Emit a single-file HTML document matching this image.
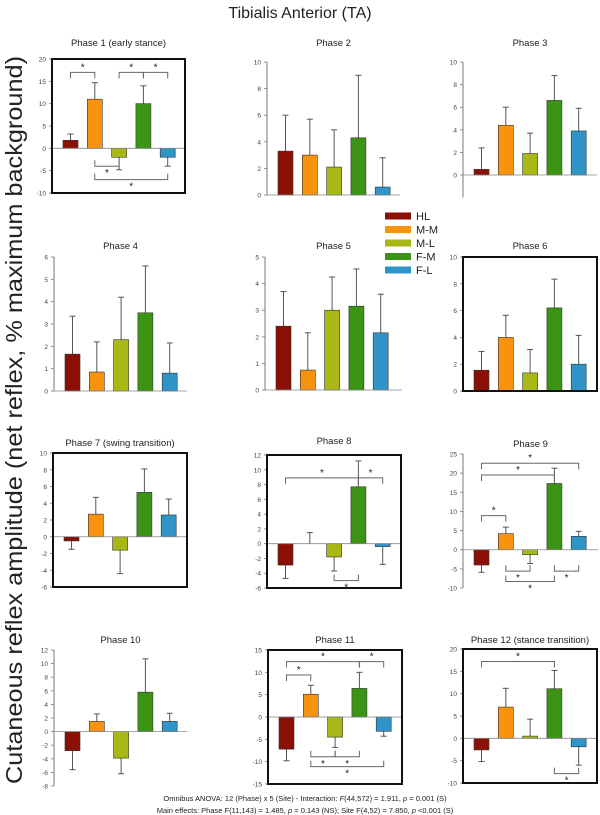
<!DOCTYPE html>
<html><head><meta charset="utf-8"><style>
html,body{margin:0;padding:0;background:#fff;}
svg{display:block;font-family:"Liberation Sans",Arial,sans-serif;}
</style></head><body>
<svg id="fig" width="600" height="815" viewBox="0 0 600 815">
<text x="300" y="18" text-anchor="middle" font-size="16" fill="#222">Tibialis Anterior (TA)</text>
<text transform="translate(22,420) rotate(-90)" text-anchor="middle" font-size="23" textLength="728" lengthAdjust="spacingAndGlyphs" fill="#222">Cutaneous reflex amplitude (net reflex, % maximum background)</text>
<text x="305" y="801" text-anchor="middle" font-size="7.5" fill="#222">Omnibus ANOVA: 12 (Phase) x 5 (Site) - Interaction: <tspan font-style="italic">F</tspan>(44,572) = 1.911, <tspan font-style="italic">p</tspan> = 0.001 (S)</text>
<text x="305" y="813" text-anchor="middle" font-size="7.5" fill="#222">Main effects: Phase F(11,143) = 1.485, <tspan font-style="italic">p</tspan> = 0.143 (NS); Site F(4,52) = 7.850, <tspan font-style="italic">p</tspan> &lt;0.001 (S)</text>
<g id="legend"></g>
</svg>
<script>
const sites = ["HL","M-M","M-L","F-M","F-L"];
const siteColors = ["#8a0f05","#f7930f","#a9b814","#3b9413","#2f95c8"];
const phaseTitles = ["Phase 1 (early stance)","Phase 2","Phase 3","Phase 4","Phase 5","Phase 6","Phase 7 (swing transition)","Phase 8","Phase 9","Phase 10","Phase 11","Phase 12 (stance transition)"];
const meansP1 = [1.8, 11.0, -2.0, 10.0, -2.0];
const errP1 = [3.2, 14.7, -4.8, 14.0, -4.0];
const meansP2 = [3.3, 3.0, 2.1, 4.3, 0.6];
const errP2 = [6.0, 5.7, 4.9, 9.0, 2.8];
const meansP3 = [0.5, 4.4, 1.9, 6.6, 3.9];
const errP3 = [2.4, 6.0, 3.7, 8.8, 5.9];
const meansP4 = [1.65, 0.85, 2.3, 3.5, 0.8];
const errP4 = [3.35, 2.2, 4.2, 5.6, 2.15];
const meansP5 = [2.4, 0.75, 3.0, 3.15, 2.15];
const errP5 = [3.7, 2.15, 4.25, 4.55, 3.6];
const meansP6 = [1.55, 4.0, 1.35, 6.2, 2.0];
const errP6 = [2.95, 5.65, 3.1, 8.35, 4.15];
const meansP7 = [-0.5, 2.7, -1.6, 5.3, 2.6];
const errP7 = [-1.5, 4.7, -4.4, 8.1, 4.5];
const meansP8 = [-2.9, 0.0, -1.8, 7.7, -0.4];
const errP8 = [-4.7, 1.5, -3.7, 11.2, -2.8];
const meansP9 = [-4.0, 4.2, -1.3, 17.3, 3.5];
const errP9 = [-5.9, 5.9, -3.6, 21.3, 4.8];
const meansP10 = [-2.8, 1.5, -3.9, 5.8, 1.5];
const errP10 = [-5.6, 2.6, -6.2, 10.7, 2.7];
const meansP11 = [-7.2, 5.1, -4.5, 6.4, -3.2];
const errP11 = [-9.8, 7.1, -6.8, 10.0, -4.3];
const meansP12 = [-2.6, 7.0, 0.5, 11.1, -1.9];
const errP12 = [-5.2, 11.2, 4.3, 15.2, -6.0];
// significance brackets: [fromSite, toSite, value, direction(+1 up / -1 down)]
const sigP1 = [[0,1,17,1],[2,3,17,1],[3,4,17,1],[1,2,-4,-1],[1,4,-7,-1]];
const sigP8 = [[0,3,8.9,1],[3,4,8.9,1],[2,3,-5,-1]];
const sigP9 = [[0,4,22.6,1],[0,3,19.5,1],[0,1,8.9,1],[1,2,-5.6,-1],[3,4,-5.6,-1],[1,3,-8.3,-1]];
const sigP11 = [[0,3,12.4,1],[3,4,12.4,1],[0,1,9.4,1],[1,2,-8.9,-1],[2,3,-8.9,-1],[1,4,-11.1,-1]];
const sigP12 = [[0,3,17.2,1],[3,4,-7.9,-1]];
const allMeans = [meansP1,meansP2,meansP3,meansP4,meansP5,meansP6,meansP7,meansP8,meansP9,meansP10,meansP11,meansP12];
const allErr = [errP1,errP2,errP3,errP4,errP5,errP6,errP7,errP8,errP9,errP10,errP11,errP12];
const allSig = [sigP1,[],[],[],[],[],[],sigP8,sigP9,[],sigP11,sigP12];
const axMax = [20,10,10,6,5,10,10,12,25,12,15,20];
const axMin = [-10,0,-2,0,0,0,-6,-6,-10,-8,-15,-10];
const axStep = [5,2,2,1,1,2,2,2,5,2,5,5];
const boxed = [true,false,false,false,false,true,true,true,false,false,true,true];

// layout (not data)
const layout = [
 {ax:52,right:185,yMax:59,yZeroOrMin:193,useMin:true,ty:46},
 {ax:267,right:400,yMax:62,yZeroOrMin:195,useMin:false,ty:46},
 {ax:463,right:597,yMax:62,yZeroOrMin:175,useMin:false,ty:46},
 {ax:54,right:187,yMax:257,yZeroOrMin:391,useMin:false,ty:249},
 {ax:265,right:402,yMax:257,yZeroOrMin:390,useMin:false,ty:249},
 {ax:463,right:597,yMax:257,yZeroOrMin:391,useMin:false,ty:249},
 {ax:53,right:187,yMax:453,yZeroOrMin:587,useMin:true,ty:446},
 {ax:267,right:401,yMax:455,yZeroOrMin:588,useMin:true,ty:444},
 {ax:463,right:598,yMax:454,yZeroOrMin:588,useMin:true,ty:447},
 {ax:54,right:187,yMax:650,yZeroOrMin:786,useMin:true,ty:643},
 {ax:268,right:402,yMax:650,yZeroOrMin:784,useMin:true,ty:643},
 {ax:463,right:597,yMax:649,yZeroOrMin:783,useMin:true,ty:643}
];
const NS="http://www.w3.org/2000/svg";
const svg=document.getElementById('fig');
function mk(tag,attrs,parent){const e=document.createElementNS(NS,tag);for(const k in attrs)e.setAttribute(k,attrs[k]);(parent||svg).appendChild(e);return e;}

for(let p=0;p<12;p++){
  const L=layout[p];
  const vmax=axMax[p], vmin=axMin[p];
  let y;
  if(L.useMin){const s=(L.yZeroOrMin-L.yMax)/(vmax-vmin);y=v=>L.yMax+(vmax-v)*s;}
  else {const s=(L.yZeroOrMin-L.yMax)/vmax;y=v=>L.yMax+(vmax-v)*s;}
  const xc=i=>L.ax+11+7.5+i*24.3;
  const g=mk('g',{});
  
  
  const t=mk('text',{x:(L.ax+L.right)/2,y:L.ty,'text-anchor':'middle','font-size':'9.5',fill:'#222'},g);
  t.textContent=phaseTitles[p];
  
  
  const axl=mk('line',{x1:L.ax,x2:L.ax,y1:y(vmax),y2:y(vmin),stroke:'#777','stroke-width':1},g);
  
  
  for(let v=vmin; v<=vmax+1e-9; v+=axStep[p]){
    if(p===2 && v<0) continue;
    mk('line',{x1:L.ax-3,x2:L.ax,y1:y(v),y2:y(v),stroke:'#777','stroke-width':0.8},g);
    const tl=mk('text',{x:L.ax-6,y:y(v)+2.5,'text-anchor':'end','font-size':'6.5',fill:'#444'},g);
    tl.textContent=v;
    
    
  }
  for(let i=0;i<5;i++){
    const m=allMeans[p][i], e=allErr[p][i];
    const cx=xc(i);
    mk('line',{x1:cx,x2:cx,y1:y(m),y2:y(e),stroke:'#555','stroke-width':1},g);
    mk('line',{x1:cx-3,x2:cx+3,y1:y(e),y2:y(e),stroke:'#555','stroke-width':1},g);
    const top=Math.min(y(m),y(0)), h=Math.abs(y(m)-y(0));
    if(h>0.2){
      const r=mk('rect',{x:cx-7.5,y:top,width:15,height:h,fill:siteColors[i],stroke:'#333','stroke-width':0.6},g);
      
      
    }
  }
  const zl=mk('line',{x1:L.ax,x2:L.right,y1:y(0),y2:y(0),stroke:'#888','stroke-width':0.8},g);
  
  
  for(const b of allSig[p]){
    const x1=xc(b[0]),x2=xc(b[1]),yy=y(b[2]),d=b[3];
    const br=mk('path',{d:`M${x1},${yy+6*d} V${yy} H${x2} V${yy+6*d}`,fill:'none',stroke:'#666','stroke-width':1},g);
    
    
    const st=mk('text',{x:(x1+x2)/2,y:d>0?yy-2:yy+10,'text-anchor':'middle','font-size':'10',fill:'#222'},g);
    st.textContent='*';
  }
  if(boxed[p]){
    const top=y(vmax), bot=y(vmin);
    const bx=mk('rect',{x:L.ax,y:top,width:L.right-L.ax,height:bot-top,fill:'none',stroke:'#111','stroke-width':2},g);
    
    
  }
}
const lg=document.getElementById('legend');
const legendY=[216,229.5,243,256.5,270];
for(let i=0;i<5;i++){
  const r=mk('rect',{x:385,y:legendY[i]-3.5,width:26,height:7,fill:siteColors[i]},lg);
  
  
  const t=mk('text',{x:416,y:legendY[i]+4,'font-size':'11',fill:'#222'},lg);
  t.textContent=sites[i];
  
  
}
</script>
</body></html>
